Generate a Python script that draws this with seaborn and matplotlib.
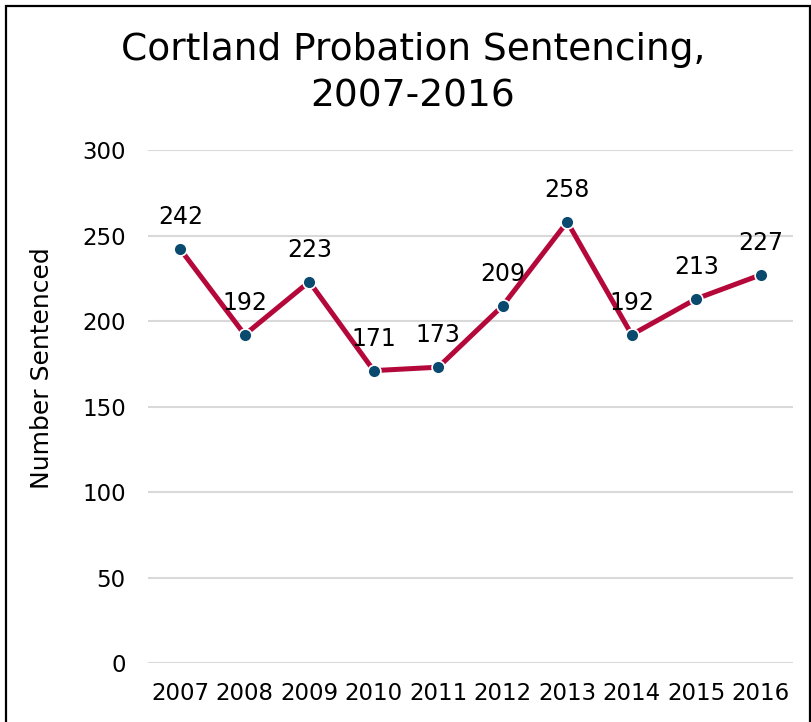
import matplotlib
matplotlib.use("Agg")
import matplotlib.pyplot as plt
import seaborn as sns
import pandas as pd
from matplotlib.patches import Rectangle

years = ["2007", "2008", "2009", "2010", "2011", "2012", "2013", "2014", "2015", "2016"]
sentenced = [242, 192, 223, 171, 173, 209, 258, 192, 213, 227]
y_ticks = [0, 50, 100, 150, 200, 250, 300]

df = pd.DataFrame({"pos": range(len(years)), "year": years, "n": sentenced})

sns.set_theme(style="white")
plt.rcParams["font.family"] = ["DejaVu Sans"]

fig = plt.figure(figsize=(8.12, 7.22), dpi=100)
ax = fig.add_axes([0.1823, 0.0817, 0.7943, 0.7105])

# frame around whole chart
fig.patches.append(Rectangle((6 / 812, -0.02), 804 / 812, 1 - 6 / 722 + 0.02,
                             transform=fig.transFigure, fill=False,
                             edgecolor="black", linewidth=1.6))

sns.lineplot(data=df, x="pos", y="n", ax=ax, color="#B5083A", linewidth=3.6,
             zorder=3)
sns.scatterplot(data=df, x="pos", y="n", ax=ax, color="#0B4A6F", s=85,
                edgecolor="white", linewidth=1.2, zorder=4)

for i, v in enumerate(sentenced):
    ax.annotate(str(v), (i, v), xytext=(0, 23), textcoords="offset points",
                ha="center", va="center", fontsize=17, color="black")

ax.set_xlim(-0.5, len(years) - 0.5)
ax.set_ylim(0, 300)
ax.set_xticks(range(len(years)))
ax.set_xticklabels(years)
ax.set_yticks(y_ticks)
ax.tick_params(axis="both", length=0, labelsize=16.5, colors="black")
ax.tick_params(axis="y", pad=16)
ax.tick_params(axis="x", pad=14)
ax.yaxis.grid(True, color="#D9D9D9", linewidth=1.5)
ax.set_axisbelow(True)
for s in ax.spines.values():
    s.set_visible(False)

ax.set_xlabel("")
ax.set_ylabel("Number Sentenced", fontsize=18, color="black")
ax.yaxis.set_label_coords(-0.146, 0.575)

fig.text(413 / 812, 1 - 73 / 722, "Cortland Probation Sentencing,\n2007-2016",
         ha="center", va="center", fontsize=27, color="black", linespacing=1.38)

fig.savefig("out.png", dpi=100)
